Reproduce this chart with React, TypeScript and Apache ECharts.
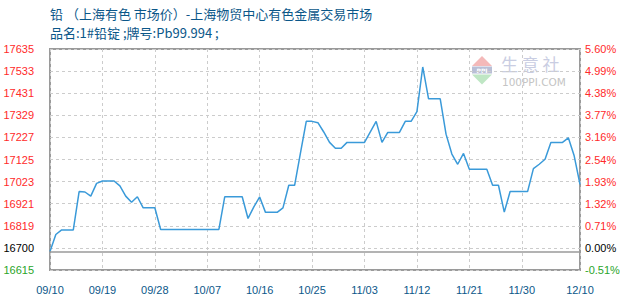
import React, { useEffect, useRef } from "react";
import * as echarts from "echarts";

const titleLine1 = "铅 （上海有色 市场价）-上海物贸中心有色金属交易市场";
const titleLine2 = "品名:1#铅锭 ;牌号:Pb99.994 ;";

const basePrice = 16700;

// x tick positions (day index from 09/10) and their labels
const xTickDays = [0, 9, 18, 27, 36, 45, 54, 63, 72, 81, 91];
const xTickLabels = ["09/10", "09/19", "09/28", "10/07", "10/16", "10/25", "11/03", "11/12", "11/21", "11/30", "12/10"];

// y tick positions and labels
const yTickValues = [16615, 16717, 16819, 16921, 17023, 17125, 17227, 17329, 17431, 17533, 17635];
const yLeftLabels = ["16615", "16700", "16819", "16921", "17023", "17125", "17227", "17329", "17431", "17533", "17635"];
const yRightLabels = ["-0.51%", "0.00%", "0.71%", "1.32%", "1.93%", "2.54%", "3.16%", "3.77%", "4.38%", "4.99%", "5.60%"];

// daily prices, 09/10 .. 12/10
const prices = [
  16700, 16779, 16800, 16800, 16800, 16977, 16975, 16956, 17015, 17026,
  17026, 17026, 17003, 16956, 16928, 16953, 16902, 16902, 16902, 16802,
  16802, 16802, 16802, 16802, 16802, 16802, 16802, 16802, 16802, 16802,
  16953, 16953, 16953, 16953, 16853, 16906, 16952, 16881, 16881, 16881,
  16902, 17006, 17006, 17154, 17301, 17301, 17295, 17252, 17204, 17177,
  17177, 17204, 17204, 17204, 17204, 17252, 17301, 17204, 17250, 17250,
  17250, 17301, 17301, 17346, 17552, 17405, 17405, 17405, 17242, 17150,
  17103, 17153, 17080, 17080, 17080, 17080, 17006, 17006, 16882, 16977,
  16977, 16977, 16977, 17083, 17103, 17126, 17204, 17204, 17204, 17225,
  17142, 17010,
];

const labelColor = (i: number) => (i === 0 ? "#2aa52a" : i === 1 ? "#000000" : "#ff2a2a");
const yIndex = (v: number) => yTickValues.findIndex((t) => Math.abs(t - v) < 0.5);

export default function App() {
  const ref = useRef<HTMLDivElement>(null);

  useEffect(() => {
    document.body.style.margin = "0";
    if (!ref.current) return;
    const chart = echarts.init(ref.current, null, { renderer: "svg" });
    const data = prices.map((p, i) => [i, p]);
    const yAxisCommon = {
      type: "value" as const,
      min: 16615,
      max: 17635,
      axisLine: { show: false },
      axisTick: { show: false, customValues: yTickValues },
      splitLine: { show: true, lineStyle: { color: "#cccccc", type: [3, 3], width: 1 } },
    };
    chart.setOption({
      animation: false,
      backgroundColor: "#ffffff",
      grid: {
        left: 50,
        right: 50,
        top: 49,
        bottom: 30,
        show: true,
        borderColor: "#9a9a9a",
        borderWidth: 2,
        backgroundColor: "transparent",
      },
      graphic: [
        {
          type: "text",
          left: 50,
          top: 7,
          style: { text: titleLine1, fill: "#0b5789", font: "13px 'Noto Sans CJK SC'" },
        },
        {
          type: "text",
          left: 50,
          top: 26,
          style: { text: titleLine2, fill: "#0b5789", font: "13px 'Noto Sans CJK SC'" },
        },
        // watermark logo
        {
          type: "polygon",
          shape: { points: [[482, 56], [472, 66], [492, 66]] },
          style: { fill: "#f4b9b9" },
          silent: true,
        },
        {
          type: "rect",
          shape: { x: 472, y: 66.5, width: 20, height: 7 },
          style: { fill: "#b9bfd6" },
          silent: true,
        },
        {
          type: "text",
          x: 482,
          y: 70,
          style: { text: "PPI", fill: "#ffffff", font: "bold 6px 'DejaVu Sans'", align: "center", verticalAlign: "middle" },
          silent: true,
        },
        {
          type: "polygon",
          shape: { points: [[472, 74.5], [492, 74.5], [482, 84.5]] },
          style: { fill: "#bfe6c4" },
          silent: true,
        },
        {
          type: "text",
          x: 501,
          y: 55,
          style: { text: "生 意 社", fill: "#c9cde2", font: "17px 'Noto Sans CJK SC'" },
          silent: true,
        },
        {
          type: "text",
          x: 502,
          y: 76,
          style: { text: "100PPI.COM", fill: "#c4c4c4", font: "10.5px 'DejaVu Sans'" },
          silent: true,
        },
      ],
      xAxis: {
        type: "value",
        min: 0,
        max: 91,
        axisLine: { show: false },
        axisTick: { show: false, customValues: xTickDays },
        splitLine: { show: true, lineStyle: { color: "#cccccc", type: [3, 3], width: 1 } },
        axisLabel: {
          customValues: xTickDays,
          margin: 14,
          color: "#0b5789",
          fontFamily: "'Liberation Sans'",
          fontSize: 11,
          formatter: (v: number) => xTickLabels[xTickDays.indexOf(Math.round(v))] ?? "",
        },
      },
      yAxis: [
        {
          ...yAxisCommon,
          position: "left",
          axisLabel: {
            customValues: yTickValues,
            margin: 16,
            fontFamily: "'Liberation Sans'",
            fontSize: 11,
            formatter: (v: number) => yLeftLabels[yIndex(v)] ?? "",
            color: (v: number) => labelColor(yIndex(v)),
          },
        },
        {
          ...yAxisCommon,
          position: "right",
          splitLine: { show: false },
          axisLabel: {
            customValues: yTickValues,
            margin: 5,
            fontFamily: "'Liberation Sans'",
            fontSize: 11,
            formatter: (v: number) => yRightLabels[yIndex(v)] ?? "",
            color: (v: number) => labelColor(yIndex(v)),
          },
        },
      ],
      series: [
        {
          type: "line",
          data,
          yAxisIndex: 0,
          showSymbol: false,
          symbol: "none",
          lineStyle: { color: "#3a9ad9", width: 1.5 },
          markLine: {
            silent: true,
            symbol: "none",
            label: { show: false },
            lineStyle: { color: "#9a9a9a", type: "solid", width: 1.5 },
            data: [{ yAxis: basePrice }],
          },
          z: 3,
        },
      ],
    });
    return () => chart.dispose();
  }, []);

  return <div ref={ref} style={{ width: 630, height: 300 }} />;
}
